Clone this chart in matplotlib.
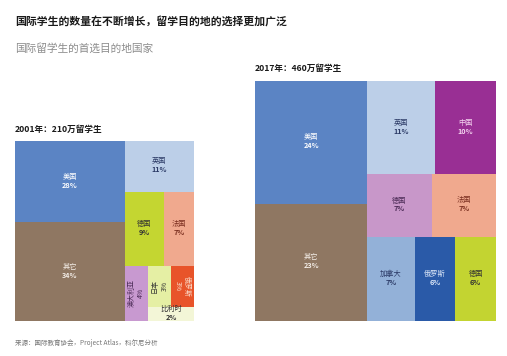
import matplotlib.pyplot as plt
from matplotlib.patches import Rectangle

plt.rcParams['font.family'] = ['Noto Sans CJK SC', 'DejaVu Sans']

# 2001
names_2001 = ["美国", "其它", "英国", "德国", "法国", "澳大利亚", "日本", "俄罗斯", "比利时"]
pct_2001 = [28, 34, 11, 9, 7, 4, 3, 3, 2]
colors_2001 = ["#5b84c4", "#8f7762", "#bccfe8", "#c4d631", "#f0a98e",
               "#c899d0", "#e5efa4", "#e8542a", "#f3f6d7"]
text_2001 = ["white", "#f4eee8", "#2b3a66", "#333333", "#7a2e1f",
             "#4a2a55", "#333333", "#fbe0d0", "#333333"]
rot_2001 = [0, 0, 0, 0, 0, 90, 90, -90, 0]
# nesting: 'h' = side by side, 'v' = stacked
tree_2001 = ('h', [('v', [0, 1]),
                   ('v', [2, ('h', [3, 4]),
                          ('h', [5, ('v', [('h', [6, 7]), 8])])])])

# 2017
names_2017 = ["美国", "其它", "英国", "中国", "德国", "法国", "加拿大", "俄罗斯", "德国"]
pct_2017 = [24, 23, 11, 10, 7, 7, 7, 6, 6]
colors_2017 = ["#5b84c4", "#8f7762", "#bccfe8", "#992f94", "#c897c9",
               "#f0a98e", "#93b1d8", "#2a5aa8", "#c3d431"]
text_2017 = ["white", "#f4eee8", "#2b3a66", "#f4d3ef", "#4a2a55",
             "#7a2e1f", "#2b3a66", "#dbe6f7", "#333333"]
rot_2017 = [0] * 9
tree_2017 = ('h', [('v', [0, 1]),
                   ('v', [('h', [2, 3]), ('h', [4, 5]), ('h', [6, 7, 8])])])


def total(node, vals):
    if isinstance(node, int):
        return vals[node]
    return sum(total(c, vals) for c in node[1])


def layout(node, vals, x, y, w, h, out):
    if isinstance(node, int):
        out[node] = (x, y, w, h)
        return
    kind, kids = node
    s = total(node, vals)
    pos = 0
    for c in kids:
        f = total(c, vals) / s
        if kind == 'h':
            layout(c, vals, x + pos * w, y, w * f, h, out)
        else:
            layout(c, vals, x, y + pos * h, w, h * f, out)
        pos += f


def draw(ax, tree, names, vals, colors, tcols, rots, box):
    rects = {}
    layout(tree, vals, *box, rects)
    for i in range(len(names)):
        x, y, w, h = rects[i]
        ax.add_patch(Rectangle((x, y), w, h, facecolor=colors[i], edgecolor='none'))
        cx, cy = x + w / 2, y + h / 2
        if rots[i] == 0:
            ax.text(cx, cy - 1, names[i], ha='center', va='bottom', fontsize=5.2,
                    color=tcols[i])
            ax.text(cx, cy, f"{vals[i]}%", ha='center', va='top', fontsize=5.2,
                    color=tcols[i], fontweight='bold')
        else:
            ax.text(cx, cy, f"{names[i]}\n{vals[i]}%", ha='center', va='center',
                    fontsize=5, color=tcols[i], rotation=rots[i], linespacing=1.3,
                    multialignment='center')


fig = plt.figure(figsize=(5.07, 3.56), dpi=100)
ax = fig.add_axes([0, 0, 1, 1])
ax.set_xlim(0, 507)
ax.set_ylim(356, 0)
ax.axis('off')

draw(ax, tree_2001, names_2001, pct_2001, colors_2001, text_2001, rot_2001,
     (15, 141, 179, 180))
draw(ax, tree_2017, names_2017, pct_2017, colors_2017, text_2017, rot_2017,
     (255, 81, 241, 240))

ax.text(15, 22, "国际学生的数量在不断增长，留学目的地的选择更加广泛", fontsize=7.8,
        fontweight='bold', color='#1a1a1a', va='center')
ax.text(15, 48, "国际留学生的首选目的地国家", fontsize=7.7, color='#8c8c8c', va='center')
ax.text(15, 129, "2001年：210万留学生", fontsize=6.2, fontweight='bold',
        color='#1a1a1a', va='center')
ax.text(255, 68, "2017年：460万留学生", fontsize=6.2, fontweight='bold',
        color='#1a1a1a', va='center')
ax.text(15, 343, "来源：国际教育协会，Project Atlas，科尔尼分析", fontsize=4.7,
        color='#777777', va='center')

fig.savefig("out.png", dpi=100, facecolor='white')
